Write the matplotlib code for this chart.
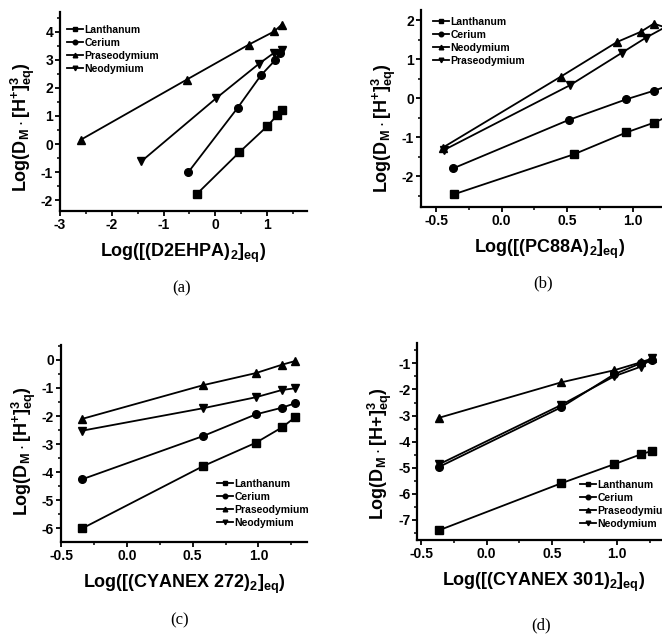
import numpy as np
import matplotlib
matplotlib.use('Agg')
import matplotlib.pyplot as plt
from matplotlib.ticker import MultipleLocator

plt.rcParams['font.family'] = ['Liberation Sans', 'DejaVu Sans']
plt.rcParams['font.weight'] = 'bold'
plt.rcParams['axes.labelweight'] = 'bold'
plt.rcParams['axes.unicode_minus'] = False
plt.rcParams['mathtext.fontset'] = 'custom'
plt.rcParams['mathtext.rm'] = 'Liberation Sans:bold'
plt.rcParams['mathtext.bf'] = 'Liberation Sans:bold'
plt.rcParams['mathtext.it'] = 'Liberation Sans:bold'
plt.rcParams['mathtext.default'] = 'bf'

W, H = 662, 639

# (a) D2EHPA
a_la_x = [-0.35, 0.46, 1.0, 1.19, 1.29]
a_la_y = [-1.77, -0.30, 0.63, 1.02, 1.23]
a_ce_x = [-0.52, 0.43, 0.88, 1.16, 1.25]
a_ce_y = [-1.0, 1.29, 2.45, 3.0, 3.25]
a_pr_x = [-2.6, -0.55, 0.65, 1.14, 1.28]
a_pr_y = [0.15, 2.30, 3.55, 4.02, 4.26]
a_nd_x = [-1.43, 0.02, 0.84, 1.13, 1.28]
a_nd_y = [-0.62, 1.64, 2.86, 3.25, 3.35]

# (b) PC88A
b_la_x = [-0.36, 0.55, 0.95, 1.16, 1.28]
b_la_y = [-2.46, -1.44, -0.88, -0.63, -0.45]
b_ce_x = [-0.37, 0.51, 0.95, 1.16, 1.28]
b_ce_y = [-1.80, -0.56, -0.03, 0.19, 0.33]
b_nd_x = [-0.45, 0.45, 0.88, 1.06, 1.16, 1.28]
b_nd_y = [-1.27, 0.55, 1.44, 1.70, 1.91, 1.78]
b_pr_x = [-0.44, 0.52, 0.92, 1.10, 1.28]
b_pr_y = [-1.33, 0.33, 1.17, 1.55, 1.88]

# (c) CYANEX 272
c_x = [-0.34, 0.58, 0.98, 1.18, 1.28]
c_la_y = [-6.0, -3.78, -2.95, -2.40, -2.04]
c_ce_y = [-4.25, -2.71, -1.94, -1.70, -1.54]
c_pr_y = [-2.10, -0.90, -0.47, -0.17, -0.04]
c_nd_y = [-2.52, -1.72, -1.33, -1.07, -1.01]

# (d) CYANEX 301
d_x = [-0.36, 0.57, 0.98, 1.18, 1.27]
d_la_y = [-7.39, -5.60, -4.86, -4.49, -4.35]
d_ce_y = [-4.96, -2.69, -1.41, -1.0, -0.87]
d_pr_y = [-3.08, -1.73, -1.26, -0.96, -0.81]
d_nd_y = [-4.86, -2.60, -1.49, -1.13, -0.81]


def px_rect(l, t, r, b):
    return [l / W, 1 - b / H, (r - l) / W, (b - t) / H]


def style(ax, xmaj, xmin, ymaj, ymin):
    for s in ['top', 'right']:
        ax.spines[s].set_visible(False)
    for s in ['left', 'bottom']:
        ax.spines[s].set_linewidth(1.6)
    ax.xaxis.set_major_locator(MultipleLocator(xmaj))
    ax.xaxis.set_minor_locator(MultipleLocator(xmin))
    ax.yaxis.set_major_locator(MultipleLocator(ymaj))
    ax.yaxis.set_minor_locator(MultipleLocator(ymin))
    ax.tick_params(which='major', direction='out', length=3.5, width=1.3,
                   labelsize=10, pad=1.5)
    ax.tick_params(which='minor', direction='out', length=2, width=1.1)


def series(ax, x, y, m, lab):
    ax.plot(x, y, color='black', lw=1.3, marker=m, ms=5.5, label=lab,
            clip_on=False)


def legend(ax, px, py):
    ax.legend(loc='upper left', bbox_to_anchor=(px / W, 1 - py / H),
              bbox_transform=fig.transFigure, frameon=False, borderpad=0,
              borderaxespad=0, handlelength=1.5, handletextpad=0.15,
              labelspacing=0.28, markerscale=0.6,
              prop={'size': 7.5, 'weight': 'bold'})


ylab = r'Log(D$_{M}\cdot$[H$^{+}$$]_{eq}^{3}$)'

fig = plt.figure(figsize=(W / 100, H / 100), dpi=100)

ax = fig.add_axes(px_rect(60, 12, 307, 211))
series(ax, a_la_x, a_la_y, 's', 'Lanthanum')
series(ax, a_ce_x, a_ce_y, 'o', 'Cerium')
series(ax, a_pr_x, a_pr_y, '^', 'Praseodymium')
series(ax, a_nd_x, a_nd_y, 'v', 'Neodymium')
ax.set_xlim(-3, 1.77)
ax.set_ylim(-2.39, 4.71)
style(ax, 1, 0.5, 1, 0.5)
ax.set_xlabel(r'Log([(D2EHPA)$_{2}]_{eq}$)', fontsize=13, labelpad=7)
ax.set_ylabel(ylab, fontsize=13, labelpad=3)
ax.yaxis.label.set_y(0.42)
legend(ax, 67, 25)

ax = fig.add_axes(px_rect(421, 10, 678.7, 207))
series(ax, b_la_x, b_la_y, 's', 'Lanthanum')
series(ax, b_ce_x, b_ce_y, 'o', 'Cerium')
series(ax, b_nd_x, b_nd_y, '^', 'Neodymium')
series(ax, b_pr_x, b_pr_y, 'v', 'Praseodymium')
ax.set_xlim(-0.615, 1.35)
ax.set_ylim(-2.79, 2.26)
style(ax, 0.5, 0.25, 1, 0.5)
ax.set_xlabel(r'Log([(PC88A)$_{2}]_{eq}$)', fontsize=13, labelpad=7)
ax.set_ylabel(ylab, fontsize=13, labelpad=3)
ax.yaxis.label.set_y(0.40)
legend(ax, 433, 17)

ax = fig.add_axes(px_rect(61, 345, 306.7, 541.7))
series(ax, c_x, c_la_y, 's', 'Lanthanum')
series(ax, c_x, c_ce_y, 'o', 'Cerium')
series(ax, c_x, c_pr_y, '^', 'Praseodymium')
series(ax, c_x, c_nd_y, 'v', 'Neodymium')
ax.set_xlim(-0.5, 1.367)
ax.set_ylim(-6.47, 0.53)
style(ax, 0.5, 0.25, 1, 0.5)
ax.set_xlabel(r'Log([(CYANEX 272)$_{2}]_{eq}$)', fontsize=13, labelpad=7)
ax.set_ylabel(ylab, fontsize=13, labelpad=3)
ax.yaxis.label.set_y(0.46)
legend(ax, 217, 479)

ax = fig.add_axes(px_rect(417.3, 343.3, 669.3, 540))
series(ax, d_x, d_la_y, 's', 'Lanthanum')
series(ax, d_x, d_ce_y, 'o', 'Cerium')
series(ax, d_x, d_pr_y, '^', 'Praseodymium')
series(ax, d_x, d_nd_y, 'v', 'Neodymium')
ax.set_xlim(-0.53, 1.4)
ax.set_ylim(-7.77, -0.23)
style(ax, 0.5, 0.25, 1, 0.5)
ax.set_xlabel(r'Log([(CYANEX 301)$_{2}]_{eq}$)', fontsize=13, labelpad=7)
ax.set_ylabel(r'Log(D$_{M}\cdot$[H+$]_{eq}^{3}$)', fontsize=13, labelpad=3)
ax.yaxis.label.set_y(0.44)
legend(ax, 580, 480)

for txt, cx, cy in [('(a)', 182, 288), ('(b)', 543, 283),
                    ('(c)', 180, 620), ('(d)', 541, 625)]:
    fig.text(cx / W, 1 - cy / H, txt, ha='center', va='center',
             fontsize=12, family='Liberation Serif', fontweight='normal')

fig.savefig('out.png', dpi=100)
